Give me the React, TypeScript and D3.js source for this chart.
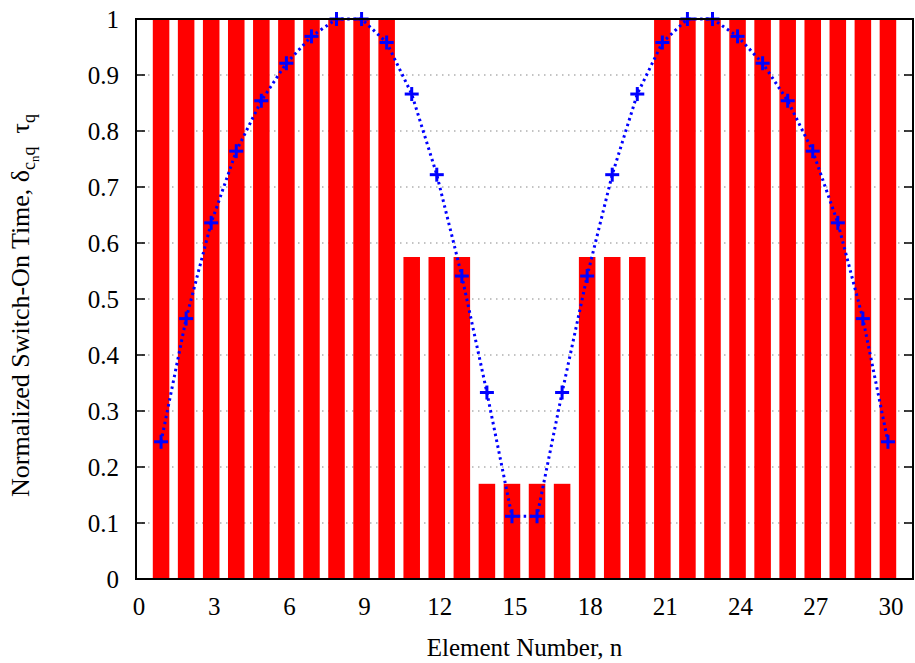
import React from "react";
import * as d3 from "d3";

// Element indices 1..30
const elements: number[] = d3.range(1, 31);

// Quantized switch-on time per element (bars)
const switchOnTimes: number[] = [
  1, 1, 1, 1, 1, 1, 1, 1, 1, 1,
  0.575, 0.575, 0.575,
  0.17, 0.17, 0.17, 0.17,
  0.575, 0.575, 0.575,
  1, 1, 1, 1, 1, 1, 1, 1, 1, 1,
];

// Continuous normalized amplitude per element (dotted curve with markers)
const amplitudes: number[] = [
  0.245, 0.465, 0.636, 0.764, 0.854, 0.921, 0.969, 1.0, 1.0, 0.958,
  0.866, 0.722, 0.541, 0.333, 0.112, 0.112, 0.333, 0.541, 0.722, 0.866,
  0.958, 1.0, 1.0, 0.969, 0.921, 0.854, 0.764, 0.636, 0.465, 0.245,
];

const xTicks: number[] = [0, 3, 6, 9, 12, 15, 18, 21, 24, 27, 30];
const yTicks: number[] = [0, 0.1, 0.2, 0.3, 0.4, 0.5, 0.6, 0.7, 0.8, 0.9, 1];

const W = 915;
const H = 663;
const left = 136;
const right = 913;
const top = 19;
const bottom = 579;
const FONT = "'Liberation Serif', 'DejaVu Serif', serif";

export default function App() {
  const x = d3.scaleLinear().domain([0, 31]).range([left, right]);
  const y = d3.scaleLinear().domain([0, 1]).range([bottom, top]);
  const barW = (x(1) - x(0)) * 0.66;

  const line = d3
    .line<number>()
    .x((_, i) => x(elements[i]))
    .y((d) => y(d));

  const fmt = (v: number) => (v === 0 || v === 1 ? String(v) : v.toFixed(1));

  return (
    <svg
      width={W}
      height={H}
      style={{ position: "absolute", left: 0, top: 0, background: "#fff", fontFamily: FONT }}
    >
      {/* horizontal grid */}
      {yTicks.slice(1, -1).map((t) => (
        <line
          key={"g" + t}
          x1={left}
          x2={right}
          y1={y(t)}
          y2={y(t)}
          stroke="#888"
          strokeWidth={1.2}
          strokeDasharray="1.5,4.5"
        />
      ))}

      {/* bars */}
      {switchOnTimes.map((v, i) => (
        <rect
          key={"b" + i}
          x={x(elements[i]) - barW / 2}
          y={y(v)}
          width={barW}
          height={y(0) - y(v)}
          fill="#ff0000"
        />
      ))}

      {/* y ticks, both sides */}
      {yTicks.map((t) => (
        <g key={"yt" + t}>
          <line x1={left} x2={left + 9} y1={y(t)} y2={y(t)} stroke="#000" strokeWidth={1.5} />
          <line x1={right - 9} x2={right} y1={y(t)} y2={y(t)} stroke="#000" strokeWidth={1.5} />
          <text
            x={119}
            y={y(t) + 9}
            textAnchor="end"
            fontSize={25}
            fill="#000"
          >
            {fmt(t)}
          </text>
        </g>
      ))}

      {/* x tick labels */}
      {xTicks.map((t) => (
        <text
          key={"xt" + t}
          x={x(t) + 3}
          y={615}
          textAnchor="middle"
          fontSize={25}
          fill="#000"
        >
          {t}
        </text>
      ))}

      {/* dotted curve */}
      <path
        d={line(amplitudes) || ""}
        fill="none"
        stroke="#0000ff"
        strokeWidth={3}
        strokeDasharray="2.5,3.5"
      />

      {/* + markers */}
      {amplitudes.map((v, i) => {
        const cx = x(elements[i]);
        const cy = y(v);
        return (
          <g key={"m" + i} stroke="#0000ff" strokeWidth={3}>
            <line x1={cx - 7} x2={cx + 7} y1={cy} y2={cy} />
            <line x1={cx} x2={cx} y1={cy - 7} y2={cy + 7} />
          </g>
        );
      })}

      {/* frame */}
      <rect
        x={left}
        y={top}
        width={right - left}
        height={bottom - top}
        fill="none"
        stroke="#000"
        strokeWidth={2}
      />

      {/* axis titles */}
      <text x={(left + right) / 2} y={656} textAnchor="middle" fontSize={25} fill="#000">
        Element Number, n
      </text>
      <text
        transform="translate(29, 497) rotate(-90)"
        textAnchor="start"
        fontSize={26}
        fill="#000"
      >
        <tspan>{"Normalized Switch-On Time,  δ"}</tspan>
        <tspan fontSize={18} dy={6}>c</tspan>
        <tspan fontSize={13} dy={4}>n</tspan>
        <tspan fontSize={18} dy={-4}>q</tspan>
        <tspan fontSize={26} dy={-6} xmlSpace="preserve">{"  τ"}</tspan>
        <tspan fontSize={18} dy={6}>q</tspan>
      </text>
    </svg>
  );
}
